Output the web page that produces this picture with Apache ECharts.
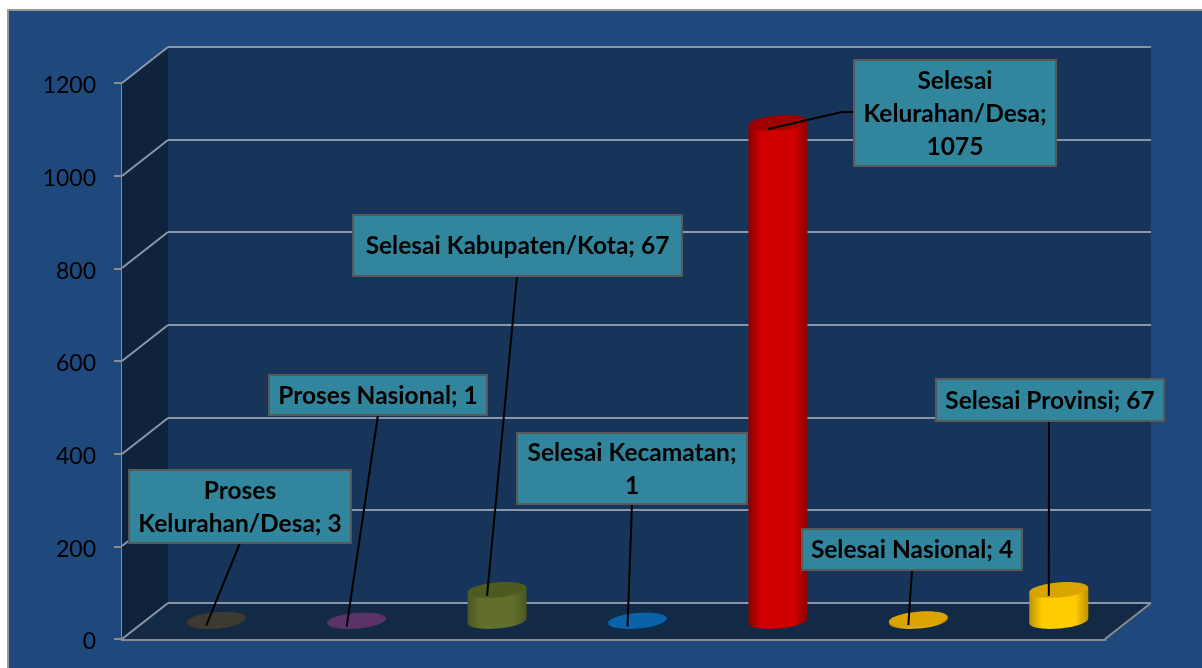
<!DOCTYPE html>
<html>
<head>
<meta charset="utf-8">
<style>html,body{margin:0;padding:0;background:#fff}#c{width:1202px;height:668px}</style>
<script src="https://cdn.jsdelivr.net/npm/echarts@6/dist/echarts.min.js"></script>
</head>
<body>
<div id="c"></div>
<script>
// ---- data ----
const categories = ['Proses Kelurahan/Desa','Proses Nasional','Selesai Kabupaten/Kota','Selesai Kecamatan','Selesai Kelurahan/Desa','Selesai Nasional','Selesai Provinsi'];
const values = [3,1,67,1,1075,4,67];
const yTicks = [0,200,400,600,800,1000,1200];
const labelTexts = ['Proses\nKelurahan/Desa; 3','Proses Nasional; 1','Selesai Kabupaten/Kota; 67','Selesai Kecamatan;\n1','Selesai\nKelurahan/Desa;\n1075','Selesai Nasional; 4','Selesai Provinsi; 67'];

// ---- style & layout (not data) ----
const barEdge = ['#2e2b24','#472a52','#4a5620','#084a80','#8a0000','#a87c00','#c29200'];
const barMid  = ['#423d30','#5f3569','#626f2c','#0a62a8','#d00000','#e6ac00','#ffcc00'];
const barTop  = ['#3e3a30','#5c3368','#4e5b20','#0a62a8','#a00000','#d9a300','#d8a500'];
const FONT = 'Lato, "Open Sans", sans-serif';
const DX = 46, DY = -36;                 // depth of the 3D box
const BAR_DX = 24, BAR_DY = -18;         // bars stand mid-depth
const RX = 29.5, RY = 7.5, TILT = 0.085;
const boxes = [[129,470,351,543],[269,375,487,415],[353,215,682,276],[517,433,747,504],[854,60,1056,166],[802,529,1022,570],[936,379,1164,421]];
const leaderStarts = [[[240,543]],[[378,415]],[[517,276]],[[632,504]],[[854,112],[842,112]],[[912,570]],[[1049,421]]];
const WALL_SIDE='#10233c', WALL_BACK='#17345a', WALL_FLOOR='#132a47', LINE='#8b97a8', EDGE='#8c8c8c';

function renderWalls(params, api){
  if(params.dataIndex!==0) return;
  const cs=params.coordSys, x=cs.x, w=cs.width;
  const y0=api.coord([0,yTicks[0]])[1], yT=api.coord([0,yTicks[yTicks.length-1]])[1];
  const poly=(pts,fill)=>({type:'polygon',shape:{points:pts},style:{fill}});
  const line=(a,b,c,wd)=>({type:'line',shape:{x1:a[0],y1:a[1],x2:b[0],y2:b[1]},style:{stroke:c,lineWidth:wd}});
  const ch=[
    poly([[x,yT],[x+DX,yT+DY],[x+DX,y0+DY],[x,y0]],WALL_SIDE),
    poly([[x+DX,yT+DY],[x+w+DX,yT+DY],[x+w+DX,y0+DY],[x+DX,y0+DY]],WALL_BACK),
    poly([[x,y0],[x+DX,y0+DY],[x+w+DX,y0+DY],[x+w,y0]],WALL_FLOOR)
  ];
  yTicks.forEach(t=>{
    const y=Math.round(api.coord([0,t])[1]);
    ch.push(line([x,y],[x+DX,y+DY],LINE,2));
    ch.push(line([x+DX,y+DY],[x+w+DX,y+DY],LINE,2));
  });
  ch.push(line([x+w,y0],[x+w+DX,y0+DY],EDGE,2));
  return {type:'group',silent:true,children:ch};
}

function renderBar(params, api){
  const i=params.dataIndex;
  const base=api.coord([api.value(0),0]), top=api.coord([api.value(0),api.value(1)]);
  const cx=base[0]+BAR_DX, yb=base[1]+BAR_DY, yt=top[1]+BAR_DY;
  const dyEnd=RX*Math.sin(TILT);
  const grad={type:'linear',x:0,y:0,x2:1,y2:0,colorStops:[{offset:0,color:barEdge[i]},{offset:0.22,color:barMid[i]},{offset:0.78,color:barMid[i]},{offset:1,color:barEdge[i]}]};
  const ell=(y,fill)=>({type:'ellipse',x:cx,y:y,rotation:TILT,shape:{cx:0,cy:0,rx:RX,ry:RY},style:{fill}});
  return {type:'group',children:[
    ell(yb,grad),
    {type:'polygon',shape:{points:[[cx-RX,yb+dyEnd],[cx+RX,yb-dyEnd],[cx+RX,yt-dyEnd],[cx-RX,yt+dyEnd]]},style:{fill:grad}},
    ell(yt,barTop[i])
  ]};
}

function renderLabel(params, api){
  const i=params.dataIndex, b=boxes[i];
  const top=api.coord([api.value(0),api.value(1)]);
  const ax=top[0]+BAR_DX-10, ay=top[1]+BAR_DY+6;
  const pts=leaderStarts[i].concat([[ax,ay]]);
  return {type:'group',children:[
    {type:'polyline',shape:{points:pts},style:{stroke:'#000',lineWidth:2,fill:null}},
    {type:'rect',shape:{x:b[0],y:b[1],width:b[2]-b[0],height:b[3]-b[1]},style:{fill:'#31859c',stroke:'#595959',lineWidth:2}},
    {type:'text',x:(b[0]+b[2])/2,y:(b[1]+b[3])/2+1,style:{text:labelTexts[i],align:'center',verticalAlign:'middle',fill:'#000',font:'bold 24.5px '+FONT,lineHeight:33}}
  ]};
}

const rows=categories.map((c,i)=>[i,values[i],c]);
const chart=echarts.init(document.getElementById('c'));
chart.setOption({
  animation:false,
  backgroundColor:'#ffffff',
  graphic:[{type:'rect',z:-10,silent:true,shape:{x:8,y:10,width:1200,height:664},style:{fill:'#1f497d',stroke:'#999999',lineWidth:2}}],
  grid:{left:122,top:83,width:983,height:556,containLabel:false},
  xAxis:{type:'category',data:categories,axisLabel:{show:false},axisTick:{show:false},axisLine:{lineStyle:{color:EDGE,width:3}}},
  yAxis:{type:'value',min:0,max:1200,interval:200,splitLine:{show:false},
    axisLine:{show:true,lineStyle:{color:EDGE,width:2}},
    axisTick:{show:true,length:8,lineStyle:{color:EDGE,width:2}},
    axisLabel:{margin:26,formatter:v=>'{n|'+v+'}',rich:{n:{color:'#000',fontFamily:FONT,fontSize:23,padding:[6,0,0,0]}}}},
  series:[
    {type:'custom',name:'walls',coordinateSystem:'cartesian2d',z:1,renderItem:renderWalls,data:rows,encode:{x:0,y:1},silent:true},
    {type:'custom',name:'bars',coordinateSystem:'cartesian2d',z:3,renderItem:renderBar,data:rows,encode:{x:0,y:1}},
    {type:'custom',name:'labels',coordinateSystem:'cartesian2d',z:5,renderItem:renderLabel,data:rows,encode:{x:0,y:1}}
  ]
});
</script>
</body>
</html>
